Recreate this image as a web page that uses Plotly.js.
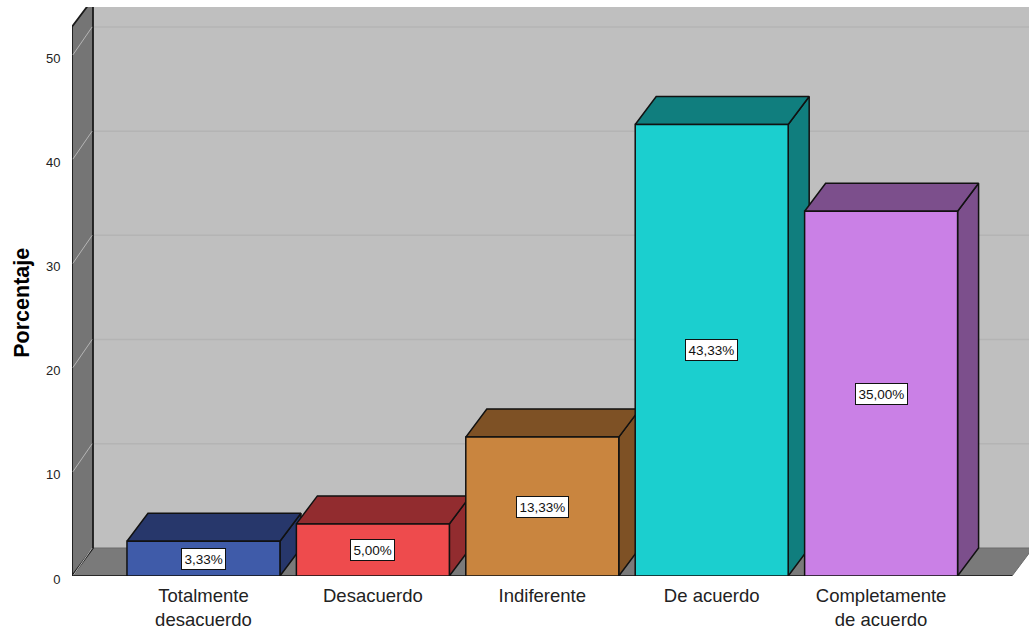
<!DOCTYPE html>
<html><head><meta charset="utf-8">
<script src="https://cdn.plot.ly/plotly-3.0.1.min.js"></script>
<style>html,body{margin:0;padding:0;background:#fff}#chart{width:1029px;height:631px}</style>
</head><body><div id="chart"></div>
<script>
const categories = ["Totalmente<br>desacuerdo","Desacuerdo","Indiferente","De acuerdo","Completamente<br>de acuerdo"];
const percentages = [3.33,5.00,13.33,43.33,35.00];
const pctLabels = ["3,33%","5,00%","13,33%","43,33%","35,00%"];
const frontColors = ["#3F5BA9","#EE4B4D","#C9853F","#1BCFCF","#CA80E6"];
const depthColors = ["#27376B","#922C2F","#7E5125","#107E7E","#7C4F8C"];
const gridValues = [10,20,30,40,50];
const yTicks = [0,10,20,30,40,50];

const barWidth = 0.903, depthX = 21/169.4, depthY = 28/10.42;
const xMin = -0.776, xMax = 4.873, yMax = 54.6;
const wallTop = 52.7;
const floorRight = xMax - 17/169.4;
const wallColor = "#757575", floorColor = "#7A7A7A", edge = "#111111", backWall = "#BFBFBF";
const fontName = "Liberation Sans, Arial, sans-serif";
const traces = [];
function poly(x, y, fill, lineColor, w){
  traces.push({type:"scatter",mode:"lines",x:x,y:y,fill:"toself",fillcolor:fill,
    line:{color:lineColor,width:w===undefined?1.5:w},hoverinfo:"skip",showlegend:false});
}
function seg(x, y, color, w){
  traces.push({type:"scatter",mode:"lines",x:x,y:y,line:{color:color,width:w},hoverinfo:"skip",showlegend:false});
}
// back wall
poly([xMin+depthX,xMax+0.1,xMax+0.1,xMin+depthX,xMin+depthX],[depthY,depthY,wallTop+depthY,wallTop+depthY,depthY],backWall,backWall,0);
// floor
poly([xMin,floorRight,floorRight+depthX,xMin+depthX,xMin],[0,0,depthY,depthY,0],floorColor,"#6A6A6A",1);
// back wall grid
gridValues.forEach(v=>seg([xMin+depthX,xMax],[v+depthY,v+depthY],"#B4B4B4",1.5));
// left wall
poly([xMin,xMin+depthX,xMin+depthX,xMin,xMin],[0,depthY,wallTop+depthY,wallTop,0],wallColor,"#1A1A1A",1.8);
yTicks.forEach(v=>seg([xMin+0.005,xMin+depthX-0.005],[v,v+depthY],"#B5B5B5",1));
seg([xMin,floorRight],[0,0],edge,1.5);
// bars, left to right
percentages.forEach((v,i)=>{
  const l=i-barWidth/2, r=i+barWidth/2;
  poly([r,r+depthX,r+depthX,r,r],[0,depthY,v+depthY,v,0],depthColors[i],edge);
  poly([l,l+depthX,r+depthX,r,l],[v,v+depthY,v+depthY,v,v],depthColors[i],edge);
  poly([l,r,r,l,l],[0,0,v,v,0],frontColors[i],edge);
});
const annotations = percentages.map((v,i)=>({
  x:i,y:v/2,xref:"x",yref:"y",text:pctLabels[i],showarrow:false,
  font:{family:fontName,size:13.5,color:"#111"},
  bgcolor:"#FFFFFF",bordercolor:"#111111",borderwidth:1,borderpad:2.5
}));
annotations.push({xref:"paper",yref:"paper",x:-0.067,y:0.48,text:"<b>Porcentaje</b>",textangle:-90,showarrow:false,
  font:{family:fontName,size:21.5,color:"#000"}});
const layout = {
  width:1029,height:631,
  margin:{l:72,r:0,t:7,b:55,pad:0},
  paper_bgcolor:"#FFFFFF",plot_bgcolor:"#FFFFFF",
  showlegend:false,
  xaxis:{range:[xMin,xMax],tickmode:"array",tickvals:[0,1,2,3,4],ticktext:categories,showgrid:false,zeroline:false,
    ticks:"outside",ticklen:3,tickcolor:"rgba(0,0,0,0)",showline:false,fixedrange:true,automargin:false,
    tickfont:{family:fontName,size:18.5,color:"#222"}},
  yaxis:{range:[0,yMax],tickmode:"array",tickvals:yTicks,ticktext:yTicks.map(String),showgrid:false,zeroline:false,
    ticks:"outside",ticklen:8,tickcolor:"rgba(0,0,0,0)",showline:false,fixedrange:true,automargin:false,ticklabelshift:3,
    tickfont:{family:fontName,size:13,color:"#222"}},
  annotations:annotations
};
Plotly.newPlot("chart",traces,layout,{displayModeBar:false,staticPlot:true});
</script></body></html>
